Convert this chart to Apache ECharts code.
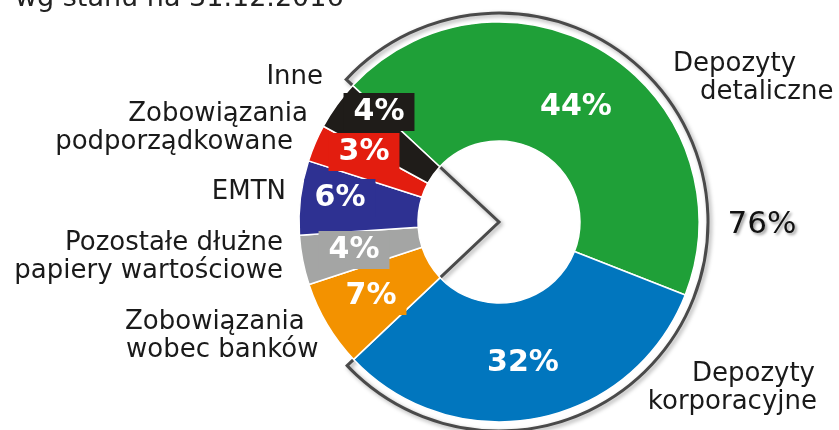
<!DOCTYPE html>
<html><head><meta charset="utf-8">
<script src="https://cdn.jsdelivr.net/npm/echarts@6/dist/echarts.min.js"></script>
<style>html,body{margin:0;padding:0;background:#fff}#c{width:839px;height:430px}</style>
</head><body><div id="c"></div>
<script>
// ---- data ----
const titleText = 'wg stanu na 31.12.2016';
const categories = ['Depozyty detaliczne', 'Depozyty korporacyjne', 'Zobowiązania wobec banków',
  'Pozostałe dłużne papiery wartościowe', 'EMTN', 'Zobowiązania podporządkowane', 'Inne'];
const categoryLines = [['Depozyty', 'detaliczne'], ['Depozyty', 'korporacyjne'], ['Zobowiązania', 'wobec banków'],
  ['Pozostałe dłużne', 'papiery wartościowe'], ['EMTN'], ['Zobowiązania', 'podporządkowane'], ['Inne']];
const shares = [44, 32, 7, 4, 6, 3, 4];
const depositCount = 2; // first two categories form the highlighted group
const groupShares = [
  shares.slice(0, depositCount).reduce((a, b) => a + b, 0),
  shares.slice(depositCount).reduce((a, b) => a + b, 0)
];

// ---- styles / layout ----
const colors = ['#1fa038', '#0176be', '#f39200', '#a4a5a4', '#2e3192', '#e31d0f', '#1f1c19'];
const boxed = [false, false, true, true, true, true, true];
const pctPos = [[576, 107], [523, 363], [371, 296], [354, 250], [340, 198], [364, 152], [379, 112]];
const namePos = [
  {x: 673, y: 78, align: 'left', pad: [0, 27]},
  {x: 817, y: 388, align: 'right', pad: [2, 0]},
  {x: 125, y: 336, align: 'left', pad: [0, 1]},
  {x: 283, y: 257, align: 'right', pad: [0, 0]},
  {x: 286, y: 192, align: 'right', pad: [0]},
  {x: 308, y: 128, align: 'right', pad: [0, 15]},
  {x: 323, y: 77, align: 'right', pad: [0]}
];
const FONT = 'DejaVu Sans';
const CENTER = [499, 222];

const chart = echarts.init(document.getElementById('c'), null, {renderer: 'canvas'});

const donutData = categories.map((name, i) => ({
  name, value: shares[i],
  itemStyle: {color: colors[i]},
  label: boxed[i] ? {backgroundColor: colors[i], padding: [5, 10, 1, 10]} : {}
}));

const nameData = categories.map((name, i) => {
  const rich = {};
  categoryLines[i].forEach((t, k) => {
    const p = namePos[i].pad[k] || 0;
    rich['l' + k] = {
      fontFamily: FONT, fontSize: 26, lineHeight: 28, color: '#1a1a1a',
      padding: namePos[i].align === 'left' ? [0, 0, 0, p] : [0, p, 0, 0]
    };
  });
  return {name, value: shares[i], label: {rich}};
});

chart.setOption({
  animation: false,
  title: {
    text: titleText, left: 15, top: -16, padding: 0,
    textStyle: {fontFamily: FONT, fontSize: 27, fontWeight: 'normal', color: '#222', lineHeight: 30}
  },
  series: [
    {
      // outline around the deposit group
      type: 'pie', z: 1, silent: true, center: CENTER, radius: [0, 209],
      startAngle: 137, clockwise: true, avoidLabelOverlap: false,
      emphasis: {disabled: true},
      data: [
        {name: 'Depozyty', value: groupShares[0],
          itemStyle: {color: 'rgba(0,0,0,0)', borderColor: '#4a4a4a', borderWidth: 3, borderJoin: 'miter',
            shadowColor: 'rgba(0,0,0,0.35)', shadowBlur: 4, shadowOffsetX: 2, shadowOffsetY: 2},
          label: {show: true}},
        {name: 'Pozostałe', value: groupShares[1],
          itemStyle: {color: 'rgba(0,0,0,0)', borderWidth: 0}, label: {show: false}}
      ],
      label: {
        show: true, position: 'inside',
        formatter: p => Math.round(p.percent) + '%',
        fontFamily: FONT, fontSize: 31, color: '#111',
        textShadowColor: 'rgba(0,0,0,0.4)', textShadowBlur: 3, textShadowOffsetX: 2, textShadowOffsetY: 2
      },
      labelLine: {show: false},
      labelLayout: () => ({x: 762, y: 225, align: 'center', verticalAlign: 'middle'})
    },
    {
      type: 'pie', z: 2, silent: true, center: CENTER, radius: [81, 200],
      startAngle: 137, clockwise: true, avoidLabelOverlap: false,
      emphasis: {disabled: true},
      itemStyle: {borderColor: '#fff', borderWidth: 1.5},
      data: donutData,
      label: {
        show: true, position: 'inside',
        formatter: p => Math.round(p.percent) + '%',
        fontFamily: FONT, fontSize: 30, fontWeight: 'bold', color: '#fff', lineHeight: 32
      },
      labelLine: {show: false},
      labelLayout: p => ({x: pctPos[p.dataIndex][0], y: pctPos[p.dataIndex][1], align: 'center', verticalAlign: 'middle'})
    },
    {
      type: 'pie', z: 3, silent: true, center: CENTER, radius: [81, 200],
      startAngle: 137, clockwise: true, avoidLabelOverlap: false,
      emphasis: {disabled: true},
      itemStyle: {color: 'rgba(0,0,0,0)', borderWidth: 0},
      data: nameData,
      label: {
        show: true, position: 'inside',
        fontFamily: FONT, fontSize: 26, lineHeight: 28, color: '#1a1a1a',
        formatter: p => categoryLines[p.dataIndex].map((t, k) => '{l' + k + '|' + t + '}').join('\n')
      },
      labelLine: {show: false},
      labelLayout: p => {
        const n = namePos[p.dataIndex];
        return {x: n.x, y: n.y, align: n.align, verticalAlign: 'middle'};
      }
    }
  ]
});
</script>
</body></html>
